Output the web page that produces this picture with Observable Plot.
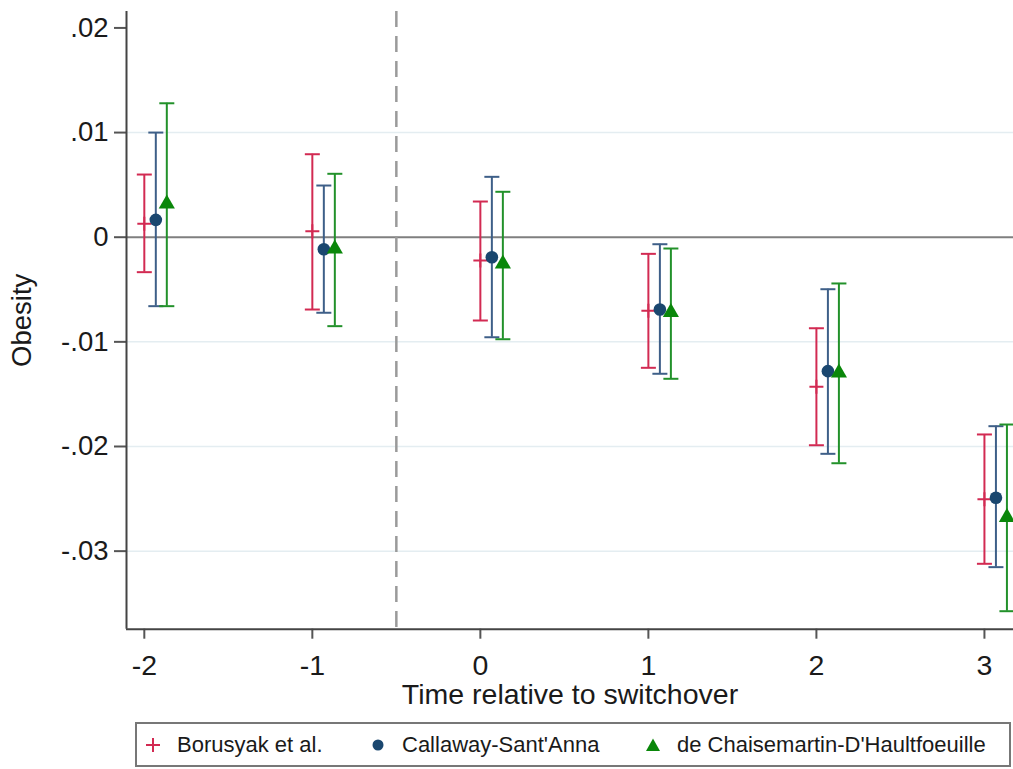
<!DOCTYPE html>
<html><head><meta charset="utf-8">
<script src="https://cdn.jsdelivr.net/npm/d3@7"></script>
<script src="https://cdn.jsdelivr.net/npm/@observablehq/plot@0.6"></script>
<style>
body{margin:0;background:#fff;font-family:"Liberation Sans",Arial,sans-serif;}
#wrap{position:relative;width:1013px;height:769px;overflow:hidden;background:#fff;}
#chart svg{display:block;overflow:visible;}
#legend{position:absolute;left:135px;top:722px;width:876px;height:45px;box-sizing:border-box;border:2px solid #777;background:#fff;}
.li{position:absolute;top:0;height:41px;display:flex;align-items:center;font-size:22px;color:#1a1a1a;white-space:nowrap;}
.li svg{margin-right:16px;}
</style></head>
<body>
<div id="wrap"><div id="chart"></div><div id="legend"></div></div>
<script>
// ---- data ----
const periods = [-2, -1, 0, 1, 2, 3];
const xTickLabels = ["-2", "-1", "0", "1", "2", "3"];
const yTicks = [-0.03, -0.02, -0.01, 0, 0.01, 0.02];
const yTickLabels = ["-.03", "-.02", "-.01", "0", ".01", ".02"];
const gridValues = [-0.03, -0.02, -0.01, 0.01];
const switchover = -0.5;
const seriesNames = ["Borusyak et al.", "Callaway-Sant'Anna", "de Chaisemartin-D'Haultfoeuille"];

const borusyakEst = [0.00128, 0.00057, -0.00223, -0.00703, -0.01430, -0.02504];
const borusyakLo  = [-0.00334, -0.00691, -0.00796, -0.01248, -0.01988, -0.03121];
const borusyakHi  = [0.00599, 0.00793, 0.00341, -0.00159, -0.00870, -0.01885];

const callawayEst = [0.00166, -0.00115, -0.00191, -0.00691, -0.01280, -0.02490];
const callawayLo  = [-0.00659, -0.00722, -0.00956, -0.01305, -0.02070, -0.03153];
const callawayHi  = [0.01000, 0.00494, 0.00577, -0.00067, -0.00497, -0.01806];

const dcdhEst = [0.00319, -0.00111, -0.00254, -0.00717, -0.01296, -0.02676];
const dcdhLo  = [-0.00659, -0.00850, -0.00975, -0.01353, -0.02160, -0.03574];
const dcdhHi  = [0.01280, 0.00606, 0.00434, -0.00108, -0.00442, -0.01790];

// ---- styles ----
const FONT = "'Liberation Sans', Arial, sans-serif";
const styles = [
  {bar: "#d22a52", mark: "#d22a52", dx: 0, kind: "plus"},
  {bar: "#3e5f88", mark: "#1a476f", dx: 11.5, kind: "circle"},
  {bar: "#22912a", mark: "#0a870a", dx: 22.5, kind: "triangle"}
];
const capSymbol = {draw(ctx, size) { const r = Math.sqrt(size / Math.PI); ctx.moveTo(-r, 0); ctx.lineTo(r, 0); }};
const plusSymbol = {draw(ctx, size) { const r = Math.sqrt(size / Math.PI); ctx.moveTo(-r, 0); ctx.lineTo(r, 0); ctx.moveTo(0, -r); ctx.lineTo(0, r); }};

const seriesData = [
  [borusyakEst, borusyakLo, borusyakHi],
  [callawayEst, callawayLo, callawayHi],
  [dcdhEst, dcdhLo, dcdhHi]
].map(([est, lo, hi]) => periods.map((p, i) => ({period: p, est: est[i], lo: lo[i], hi: hi[i]})));

const seriesMarks = seriesData.flatMap((rows, s) => {
  const st = styles[s];
  const m = [
    Plot.ruleX(rows, {x: "period", y1: "lo", y2: "hi", stroke: st.bar, strokeWidth: 2, dx: st.dx}),
    Plot.dot(rows, {x: "period", y: "lo", symbol: capSymbol, r: 7.5, fill: "none", stroke: st.bar, strokeWidth: 2, dx: st.dx}),
    Plot.dot(rows, {x: "period", y: "hi", symbol: capSymbol, r: 7.5, fill: "none", stroke: st.bar, strokeWidth: 2, dx: st.dx})
  ];
  if (st.kind === "plus") m.push(Plot.dot(rows, {x: "period", y: "est", symbol: plusSymbol, r: 7, fill: "none", stroke: st.mark, strokeWidth: 2, dx: st.dx}));
  if (st.kind === "circle") m.push(Plot.dot(rows, {x: "period", y: "est", symbol: "circle", r: 6.3, fill: st.mark, stroke: "none", dx: st.dx}));
  if (st.kind === "triangle") m.push(Plot.dot(rows, {x: "period", y: "est", symbol: "triangle", r: 6, fill: st.mark, stroke: "none", dx: st.dx}));
  return m;
});

const chart = Plot.plot({
  width: 1013, height: 718,
  marginLeft: 126, marginRight: 0, marginTop: 11, marginBottom: 89.3,
  x: {domain: [-2.106, 3.173]},
  y: {domain: [-0.03746, 0.02157]},
  style: {fontFamily: FONT, fontSize: "27px", color: "#1a1a1a", background: "#fff", overflow: "visible"},
  marks: [
    Plot.ruleY(gridValues, {stroke: "#e4edf1", strokeWidth: 1.5}),
    Plot.ruleY([0], {stroke: "#7f7f7f", strokeWidth: 2}),
    Plot.ruleX([switchover], {stroke: "#9a9a9a", strokeWidth: 2.5, strokeDasharray: "16,9"}),
    Plot.axisY(yTicks, {tickSize: 12, tickPadding: 6, tickFormat: d => yTickLabels[yTicks.indexOf(d)],
      fontSize: 27.5, stroke: "#555", strokeWidth: 2,
      label: "Obesity", labelAnchor: "center", labelOffset: 115, labelArrow: "none"}),
    Plot.axisX(periods, {tickSize: 10, tickPadding: 16, tickFormat: d => xTickLabels[periods.indexOf(d)],
      fontSize: 28.5, stroke: "#555", strokeWidth: 2,
      label: "Time relative to switchover", labelAnchor: "center", labelOffset: 75, labelArrow: "none"}),
    Plot.ruleX([-2.106], {stroke: "#444", strokeWidth: 2}),
    Plot.ruleY([-0.03746], {stroke: "#444", strokeWidth: 2}),
    ...seriesMarks
  ]
});
document.getElementById("chart").append(chart);

// ---- legend ----
const legendPos = [[153, 178], [378, 402], [653, 677]];
const legend = document.getElementById("legend");
seriesNames.forEach((name, s) => {
  const st = styles[s];
  const item = document.createElement("div");
  item.className = "li";
  item.style.left = (legendPos[s][0] - 135 - 2 - 8) + "px";
  let shape = "";
  if (st.kind === "plus") shape = `<path d="M1,8H15M8,1V15" stroke="${st.mark}" stroke-width="2" fill="none"/>`;
  if (st.kind === "circle") shape = `<circle cx="8" cy="8" r="5.5" fill="${st.mark}"/>`;
  if (st.kind === "triangle") shape = `<path d="M8,1.5L15,14H1Z" fill="${st.mark}"/>`;
  item.innerHTML = `<svg width="16" height="16" viewBox="0 0 16 16">${shape}</svg><span>${name}</span>`;
  legend.append(item);
});
</script>
</body></html>
